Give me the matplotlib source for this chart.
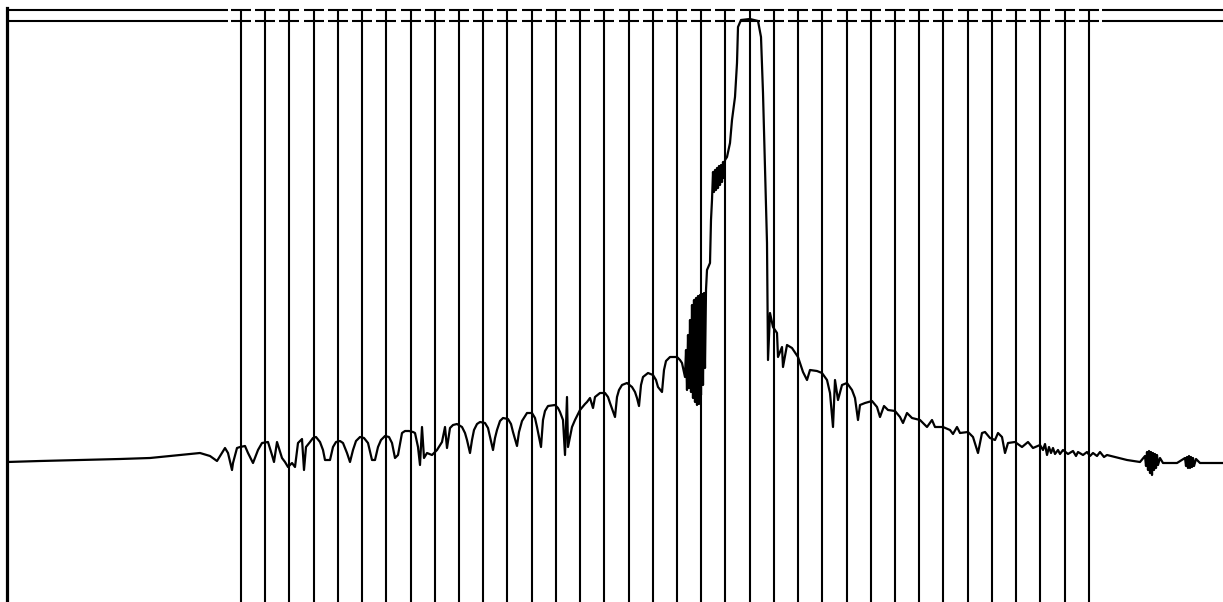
import matplotlib
matplotlib.use('Agg')
import matplotlib.pyplot as plt

# Trace: position (horizontal) and attenuation (plotted downward)
trace_pos = [7, 40, 80, 120, 150, 180, 200, 210, 217, 222, 225, 228, 232, 233, 237, 240, 245, 248, 253, 258,
             262, 268, 272, 274, 277, 282, 285, 288, 292, 295, 298, 302, 304, 306, 310, 313, 316, 320, 323, 325,
             330, 333, 336, 340, 343, 347, 350, 353, 356, 360, 364, 368, 372, 375, 378, 381, 385, 389, 392, 395,
             398, 402, 405, 409, 413, 415, 418, 420, 422, 424, 427, 432, 437, 442, 445, 447,
             450, 453, 457, 462, 465, 467, 470,
             472, 474, 477, 480, 485, 488, 490, 493,
             495, 497, 500, 503, 508, 511, 513, 517,
             519, 522, 527, 532, 535, 537, 541,
             543, 545, 548, 555, 558, 560, 563, 565, 567, 568, 572, 575, 580, 585, 587, 590, 593, 595, 600, 605,
             608, 610, 615,
             617, 619, 622, 627, 632, 635, 637, 639,
             641, 643, 648, 653, 656, 658, 662,
             664, 666, 670, 677, 680, 682, 685,
             686, 687, 688, 689, 690, 691, 692, 693, 694, 695, 696, 697, 698, 699, 700, 701, 702, 703, 704, 705,
             706, 707,
             710, 711, 712, 713, 714, 715, 716, 717, 718, 719, 720, 721, 722, 723, 724, 725, 727, 730, 732, 735,
             737, 738, 741, 750, 758, 761, 763, 767, 767.5, 768, 770, 773, 777, 778, 782, 783, 787, 792, 798, 803,
             807, 810, 817, 822, 827, 830, 833, 835, 838, 842, 847, 852, 855, 858, 860, 865, 872, 877, 880, 884,
             888, 895, 900, 903, 907, 912, 920, 927, 932, 935, 943, 950, 953, 957, 960, 968, 973, 978, 982, 985,
             990, 995, 998, 1002, 1005, 1008, 1015, 1022, 1028, 1033,
             1040, 1043, 1045, 1047, 1049, 1051, 1053, 1055, 1058, 1060, 1063, 1068, 1073, 1076, 1078, 1083,
             1087, 1090, 1093, 1097, 1100, 1104, 1107, 1115, 1127, 1140,
             1145, 1146, 1147, 1148, 1149, 1150, 1151, 1152, 1153, 1154, 1155, 1156, 1157, 1158, 1160, 1163,
             1177,
             1185, 1186, 1187, 1188, 1189, 1190, 1191, 1192, 1193, 1194, 1196, 1200, 1223]
trace_att = [462, 461, 460, 459, 458, 455, 453, 456, 461, 453, 448, 453, 470, 463, 448, 447, 446, 453, 463, 450,
             443, 442, 455, 462, 442, 458, 462, 467, 463, 467, 443, 439, 470, 447, 442, 438, 437, 442, 450, 460,
             460, 447, 442, 441, 443, 453, 462, 450, 441, 437, 438, 443, 460, 460, 447, 440, 436, 437, 443, 458,
             455, 433, 431, 431, 432, 433, 447, 465, 427, 458, 453, 455, 450, 442, 427, 448,
             428, 425, 424, 427, 433, 440, 453,
             440, 430, 424, 422, 423, 428, 437, 450,
             438, 430, 421, 418, 419, 424, 432, 446,
             432, 421, 413, 413, 418, 427, 447,
             420, 411, 406, 405, 408, 412, 420, 455, 397, 447, 427, 420, 410, 404, 402, 398, 408, 397, 393, 393,
             397, 403, 417,
             397, 390, 385, 383, 387, 392, 398, 406,
             385, 377, 373, 375, 380, 387, 392,
             370, 361, 357, 357, 360, 363, 377,
             350, 390, 335, 388, 320, 392, 305, 398, 300, 402, 298, 405, 296, 404, 295, 395, 294, 385, 293, 368,
             290, 270,
             263, 220, 200, 172, 192, 170, 190, 168, 188, 166, 185, 165, 182, 162, 178, 160, 157, 143, 120, 97,
             63, 27, 20, 19, 21, 37, 93, 243, 297, 360, 313, 327, 333, 357, 347, 367, 345, 348, 357, 372,
             380, 370, 371, 373, 380, 393, 427, 380, 400, 385, 383, 390, 398, 420, 405, 403, 401, 407, 417, 406,
             410, 411, 417, 423, 413, 418, 420, 427, 420, 427, 427, 430, 434, 427, 433, 432, 437, 453, 433, 432,
             438, 440, 433, 437, 453, 443, 442, 447, 442, 448,
             445, 450, 444, 455, 447, 453, 448, 454, 450, 454, 450, 454, 451, 456, 452, 455,
             452, 456, 453, 456, 452, 457, 455, 457, 460, 462,
             456, 466, 452, 470, 451, 473, 452, 475, 453, 470, 454, 468, 455, 465, 458, 463,
             463,
             458, 466, 457, 468, 456, 468, 457, 467, 458, 466, 459, 463, 463]

# Channel markers
channels = [241, 265, 289, 314, 338, 362, 386, 411, 435, 459, 483, 507, 532, 556, 580, 604, 629, 653,
            677, 701, 725, 750, 774, 798, 822, 847, 871, 895, 919, 943, 968, 992, 1016, 1040, 1065, 1089]

# Limit lines near the top (attenuation) and the span where they are dashed
limits = [9.5, 20.5]
dash_span = (228, 1102)
dash_half = 10

fig = plt.figure(figsize=(12.23, 6.02), dpi=100)
fig.patch.set_facecolor('white')
ax = fig.add_axes([7 / 1223, 0, 1216 / 1223, 594 / 602])
ax.set_xlim(7, 1223)
ax.set_ylim(602, 8)

for name in ['top', 'right', 'bottom']:
    ax.spines[name].set_visible(False)
ax.spines['left'].set_linewidth(2.3)
ax.spines['left'].set_color('black')
ax.set_xticks([])
ax.set_yticks([])

# Vertical channel lines
ax.vlines(channels, limits[0], 602, colors='black', linewidth=1.5)

# Limit lines: solid outside the channel span, dashed segments on each channel
for lv in limits:
    ax.hlines(lv, 7, dash_span[0], colors='black', linewidth=1.5)
    ax.hlines(lv, dash_span[1], 1223, colors='black', linewidth=1.5)
    ax.hlines([lv] * len(channels), [c - dash_half for c in channels], [c + dash_half for c in channels],
              colors='black', linewidth=1.5)

# Trace
ax.plot(trace_pos, trace_att, color='black', linewidth=1.6)

plt.savefig('out.png', dpi=100)
